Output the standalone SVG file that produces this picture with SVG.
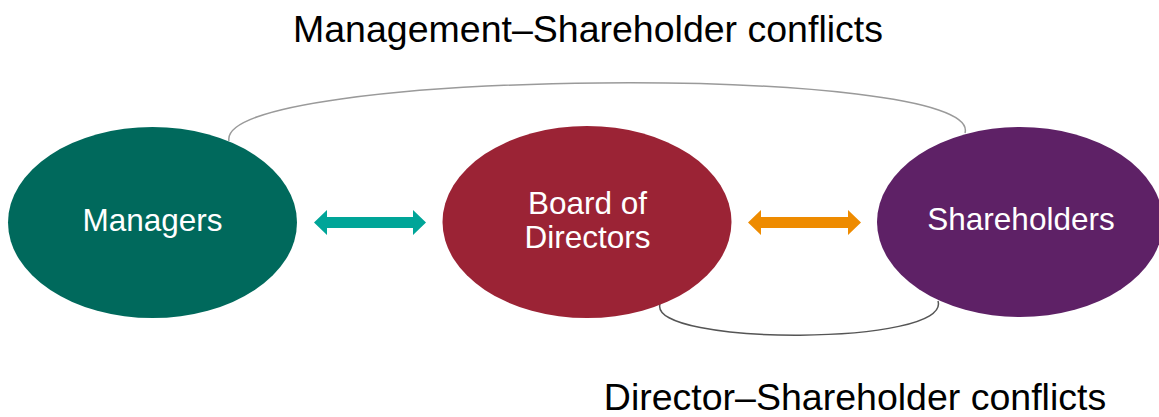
<svg xmlns="http://www.w3.org/2000/svg" width="1159" height="417" viewBox="0 0 1159 417">
<style>
.lbl{font-family:"Liberation Sans",Arial,sans-serif;fill:#000;font-size:37.5px;text-anchor:middle}
.nt{font-family:"Liberation Sans",Arial,sans-serif;fill:#fff;font-size:31.5px;text-anchor:middle}
.conn{fill:none;stroke-width:1.5}
</style>
<rect width="1159" height="417" fill="#fff"/>
<g id="connectors">
<path class="conn" stroke="#9a9a9a" d="M229,141 C215,68 985,62 965,133"/>
<path class="conn" stroke="#555" d="M660,304 C648,346 952,346 938,301"/>
<polygon id="arrow-teal" fill="#00a598" points="314,222.5 327,210 327,217 413,217 413,210 426,222.5 413,235 413,228 327,228 327,235"/>
<polygon id="arrow-orange" fill="#ee8b00" points="748,222.5 761,210 761,217 848,217 848,210 861,222.5 848,235 848,228 761,228 761,235"/>
</g>
<g id="managers">
<ellipse cx="152.5" cy="222.5" rx="144.5" ry="95.5" fill="#00695c"/>
<text class="nt" x="152.5" y="231">Managers</text>
</g>
<g id="board">
<ellipse cx="587" cy="222" rx="144.5" ry="96" fill="#9b2335"/>
<text class="nt" x="587.5" y="214">Board of</text>
<text class="nt" x="587.5" y="248">Directors</text>
</g>
<g id="shareholders">
<ellipse cx="1020" cy="222" rx="143" ry="95" fill="#5e2166"/>
<text class="nt" x="1021" y="230">Shareholders</text>
</g>
<text id="title-top" class="lbl" x="588" y="42">Management–Shareholder conflicts</text>
<text id="title-bottom" class="lbl" x="855" y="410">Director–Shareholder conflicts</text>
</svg>
